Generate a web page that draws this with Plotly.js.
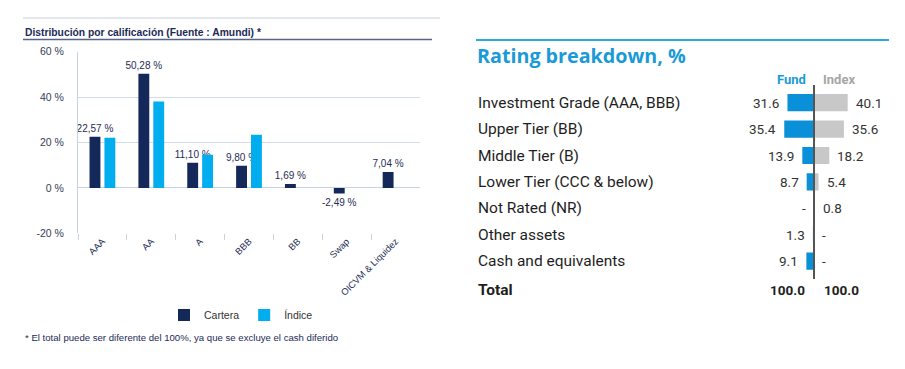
<!DOCTYPE html>
<html><head><meta charset="utf-8">
<script src="https://cdn.plot.ly/plotly-3.0.1.min.js"></script>
<style>html,body{margin:0;padding:0;background:#fff}#c{width:905px;height:369px}</style>
</head><body><div id="c"></div>
<script>
// Left chart data
const ratingCats = ['AAA','AA','A','BBB','BB','Swap','OICVM & Liquidez'];
const cartera = [22.57, 50.28, 11.10, 9.80, 1.69, -2.49, 7.04];
const indice = [22.1, 38.1, 14.6, 23.4, null, null, null];
const yTicks = [-20, 0, 20, 40, 60];
const yTickText = ['-20 %', '0 %', '20 %', '40 %', '60 %'];

// Right panel data
const rowLabels = ['Investment Grade (AAA, BBB)','Upper Tier (BB)','Middle Tier (B)','Lower Tier (CCC & below)','Not Rated (NR)','Other assets','Cash and equivalents'];
const fund = [31.6, 35.4, 13.9, 8.7, null, 1.3, 9.1];
const index = [40.1, 35.6, 18.2, 5.4, 0.8, null, null];
const totals = [100.0, 100.0];

const W = 905, H = 369;
const px = x => x / W;
const py = y => (H - y) / H;

const navy = '#14285a', cyan = '#00aeef';
const fundBlue = '#0a90d8', idxGrey = '#c8c8c8';
const narrow = 'Roboto, "Liberation Sans", sans-serif';
const arial = '"Liberation Sans", Arial, sans-serif';

const fmtEs = v => v.toFixed(2).replace('.', ',') + ' %';

const traces = [
  {type:'bar', name:'Cartera', x: ratingCats, y: cartera, xaxis:'x', yaxis:'y',
   marker:{color:navy}, text: cartera.map(fmtEs), textposition:'outside', constraintext:'none',
   textfont:{family:arial, size:10, color:'#1f2d55'}, cliponaxis:false, hoverinfo:'skip'},
  {type:'bar', name:'Índice', x: ratingCats, y: indice, xaxis:'x', yaxis:'y',
   marker:{color:cyan}, hoverinfo:'skip'},
  {type:'bar', orientation:'h', x: fund.map(v => v == null ? null : -v), y: rowLabels,
   xaxis:'x2', yaxis:'y2', marker:{color:fundBlue}, showlegend:false,
   offsetgroup:'r', width:0.65, offset:-0.325, hoverinfo:'skip'},
  {type:'bar', orientation:'h', x: index, y: rowLabels,
   xaxis:'x2', yaxis:'y2', marker:{color:idxGrey}, showlegend:false,
   offsetgroup:'r', width:0.65, offset:-0.325, hoverinfo:'skip'}
];

const ann = [];
ann.push({xref:'paper', yref:'paper', x:px(23), y:py(32), xanchor:'left', yanchor:'middle',
  text:'<b>Distribución por calificación (Fuente : Amundi) *</b>', showarrow:false,
  font:{family:arial, size:10.3, color:'#1c2a56'}});
ann.push({xref:'paper', yref:'paper', x:px(23), y:py(337), xanchor:'left', yanchor:'middle',
  text:'* El total puede ser diferente del 100%, ya que se excluye el cash diferido', showarrow:false,
  font:{family:arial, size:9.6, color:'#1c2a56'}});
ann.push({xref:'paper', yref:'paper', x:px(475), y:py(55), xanchor:'left', yanchor:'middle',
  text:'<b>Rating breakdown, %</b>', showarrow:false,
  font:{family:'"Open Sans", "Liberation Sans", sans-serif', size:19.7, color:'#1a9ad7'}});
ann.push({xref:'x2', yref:'paper', x:0, xshift:-6, y:py(80), xanchor:'right', yanchor:'middle',
  text:'<b>Fund</b>', showarrow:false, font:{family:narrow, size:13, color:'#1a9ad7'}});
ann.push({xref:'x2', yref:'paper', x:0, xshift:7, y:py(80), xanchor:'left', yanchor:'middle',
  text:'<b>Index</b>', showarrow:false, font:{family:narrow, size:13, color:'#a6a6a6'}});
rowLabels.forEach((lab, i) => {
  ann.push({xref:'paper', yref:'y2', x:px(476), y:lab, xanchor:'left', yanchor:'middle',
    text:lab, showarrow:false, font:{family:narrow, size:15.5, color:'#1e1e1e'}});
  const f = fund[i], g = index[i];
  ann.push({xref:'x2', yref:'y2', x: f == null ? 0 : -f, xshift:-6, y:lab, xanchor:'right', yanchor:'middle',
    text: f == null ? '-' : f.toFixed(1), showarrow:false, font:{family:narrow, size:13.5, color:'#333'}});
  ann.push({xref:'x2', yref:'y2', x: g == null ? 0 : g, xshift:6, y:lab, xanchor:'left', yanchor:'middle',
    text: g == null ? '-' : g.toFixed(1), showarrow:false, font:{family:narrow, size:13.5, color:'#333'}});
});
ann.push({xref:'paper', yref:'paper', x:px(476), y:py(290), xanchor:'left', yanchor:'middle',
  text:'<b>Total</b>', showarrow:false, font:{family:narrow, size:15.5, color:'#1e1e1e'}});
ann.push({xref:'x2', yref:'paper', x:0, xshift:-7, y:py(290), xanchor:'right', yanchor:'middle',
  text:'<b>'+totals[0].toFixed(1)+'</b>', showarrow:false, font:{family:narrow, size:13.5, color:'#1e1e1e'}});
ann.push({xref:'x2', yref:'paper', x:0, xshift:8, y:py(290), xanchor:'left', yanchor:'middle',
  text:'<b>'+totals[1].toFixed(1)+'</b>', showarrow:false, font:{family:narrow, size:13.5, color:'#1e1e1e'}});

const shapes = [
  {type:'line', xref:'paper', yref:'paper', x0:px(23), x1:px(440), y0:py(18), y1:py(18), line:{color:'#c5cfdd', width:1}},
  {type:'line', xref:'paper', yref:'paper', x0:px(23), x1:px(432), y0:py(39.5), y1:py(39.5), line:{color:'#56648a', width:1.5}},
  {type:'line', xref:'paper', yref:'paper', x0:px(476), x1:px(889), y0:py(40), y1:py(40), line:{color:'#29aae1', width:2}},
  {type:'line', xref:'x2', yref:'paper', x0:0, x1:0, y0:py(85), y1:py(279), line:{color:'#555', width:2}}
];

const layout = {
  width: W, height: H, margin:{l:0, r:0, t:0, b:0},
  paper_bgcolor:'#fff', plot_bgcolor:'#fff',
  barmode:'group', bargap:0.39, bargroupgap:0.27,
  showlegend:true,
  legend:{orientation:'h', x:px(241), xanchor:'center', y:py(315), yanchor:'middle',
    font:{family:arial, size:10.5, color:'#333'}, itemwidth:30},
  xaxis:{domain:[px(78), px(420)], anchor:'y', type:'category', tickangle:-45,
    tickson:'boundaries', ticks:'outside', ticklen:6, tickcolor:'#c8d3e2',
    showline:false, showgrid:false, zeroline:false,
    tickfont:{family:arial, size:9.3, color:'#1f2d55'}},
  yaxis:{domain:[py(233.3), py(51.7)], anchor:'x', range:[-20, 60],
    tickmode:'array', tickvals:yTicks, ticktext:yTickText, ticklabelstandoff:11,
    showline:true, linecolor:'#c8d3e2', linewidth:1,
    gridcolor:'#d3dcea', zeroline:true, zerolinecolor:'#c8d3e2', ticks:'',
    tickfont:{family:arial, size:10.5, color:'#333c55'}},
  xaxis2:{domain:[px(772), px(856)], anchor:'y2', range:[-50, 50], visible:false, fixedrange:true},
  yaxis2:{domain:[py(274.3), py(89.5)], anchor:'x2', type:'category', categoryorder:'array',
    categoryarray: rowLabels, range:[6.5, -0.5], visible:false},
  annotations: ann, shapes: shapes
};

Plotly.newPlot('c', traces, layout, {staticPlot:true, displayModeBar:false});
</script></body></html>
